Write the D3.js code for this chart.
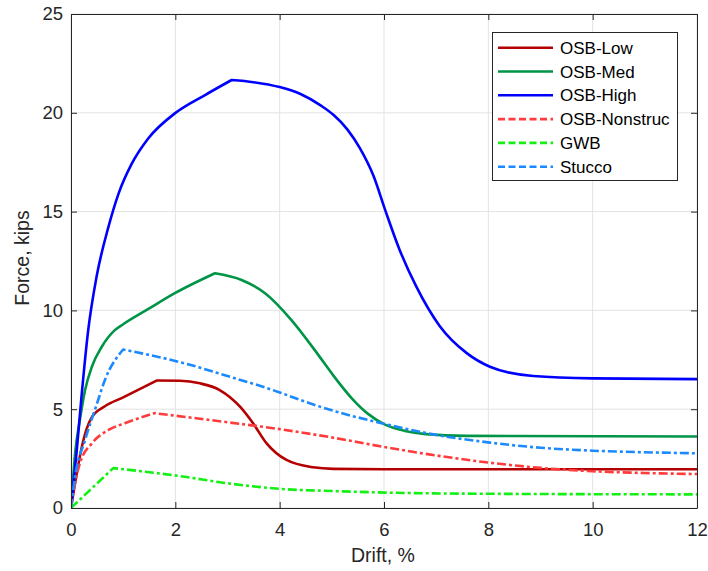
<!DOCTYPE html>
<html>
<head>
<meta charset="utf-8">
<script src="https://cdn.jsdelivr.net/npm/d3@7"></script>
<style>
  html, body { margin: 0; padding: 0; background: #fff; }
  svg { display: block; font-family: "Liberation Sans", Arial, Helvetica, sans-serif; }
</style>
</head>
<body>
<svg id="chart" width="708" height="571"></svg>
<script>
// Force–drift backbone curves for wall sheathing types
const seriesNames = ["OSB-Low", "OSB-Med", "OSB-High", "OSB-Nonstruc", "GWB", "Stucco"];

const osbLow = [
  [0, 0], [0.1, 1.6], [0.2, 3.0], [0.3, 4.0], [0.4, 4.6], [0.65, 5.15], [1.0, 5.6],
  [1.64, 6.45], [2.09, 6.44], [2.47, 6.31], [2.85, 5.97], [3.24, 5.13], [3.49, 4.29],
  [3.75, 3.27], [4.13, 2.43], [4.64, 2.06], [5.03, 1.98], [6, 1.96], [12, 1.96]
];
const osbMed = [
  [0, 0], [0.08, 2.8], [0.17, 4.45], [0.27, 5.97], [0.4, 7.15], [0.59, 8.16], [0.84, 9.0],
  [1.0, 9.3], [1.5, 10.1], [1.99, 10.87], [2.76, 11.88], [3.27, 11.54], [3.72, 10.87],
  [4.23, 9.5], [4.74, 7.75], [5.03, 6.7], [5.4, 5.5], [5.7, 4.75], [6.02, 4.22],
  [6.4, 3.9], [6.8, 3.74], [7.58, 3.65], [12, 3.62]
];
const osbHigh = [
  [0, 0], [0.11, 2.9], [0.2, 5.6], [0.33, 9.0], [0.49, 11.7], [0.715, 14.2], [0.91, 15.9],
  [1.16, 17.4], [1.48, 18.7], [1.99, 19.97], [2.57, 20.9], [3.08, 21.66], [3.5, 21.55],
  [4.0, 21.3], [4.4, 20.95], [4.8, 20.35], [5.03, 19.9], [5.3, 19.15],
  [5.54, 18.2], [5.8, 16.8], [6.02, 15.1], [6.3, 13.06], [6.62, 11.2], [7.07, 9.2],
  [7.58, 7.85], [8.03, 7.15], [8.86, 6.68], [10, 6.56], [12, 6.52]
];
const osbNonstruc = [
  [0, 0], [0.077, 1.25], [0.17, 2.26], [0.4, 3.27], [0.72, 3.95], [1.03, 4.29], [1.6, 4.8],
  [3, 4.34], [4, 3.99], [5, 3.57], [6, 3.09], [7, 2.66], [8, 2.3], [9, 2.03],
  [10, 1.86], [11, 1.77], [12, 1.72]
];
const gwb = [
  [0, 0], [0.81, 2.02], [2.18, 1.58], [3, 1.25], [4.39, 0.91], [4.77, 0.88], [6.02, 0.78],
  [8, 0.72], [12, 0.69]
];
const stucco = [
  [0, 0], [0.077, 1.58], [0.27, 3.44], [0.5, 5.3], [0.65, 6.48], [1.0, 8.02], [2.18, 7.32],
  [3, 6.68], [4, 5.85], [4.39, 5.47], [4.77, 5.13], [6.02, 4.25], [7, 3.7], [8.03, 3.31],
  [9, 3.05], [10, 2.9], [11, 2.82], [12, 2.77]
];

// drift values where each curve has a sharp kink (peak of the backbone)
const kinks = [[1.64], [2.76], [3.08], [1.6], [0.81], [1.0]];

const xTicks = [0, 2, 4, 6, 8, 10, 12];
const yTicks = [0, 5, 10, 15, 20, 25];

const series = [
  { name: seriesNames[0], data: osbLow,      kinks: kinks[0], color: "#b40000", dash: null },
  { name: seriesNames[1], data: osbMed,      kinks: kinks[1], color: "#009447", dash: null },
  { name: seriesNames[2], data: osbHigh,     kinks: kinks[2], color: "#0000ff", dash: null },
  { name: seriesNames[3], data: osbNonstruc, kinks: kinks[3], color: "#ff3b3b", dash: "9,3,3,3" },
  { name: seriesNames[4], data: gwb,         kinks: kinks[4], color: "#14f014", dash: "9,3,3,3" },
  { name: seriesNames[5], data: stucco,      kinks: kinks[5], color: "#1b8aff", dash: "9,3,3,3" }
];

const svg = d3.select("#chart");
const plot = { left: 71, top: 14, right: 697, bottom: 508 };

const x = d3.scaleLinear().domain([0, 12]).range([plot.left, plot.right]);
const y = d3.scaleLinear().domain([0, 25]).range([plot.bottom, plot.top]);

// grid
const grid = svg.append("g").attr("stroke", "#e3e3e3").attr("stroke-width", 1);
xTicks.forEach(t => grid.append("line")
  .attr("x1", x(t)).attr("x2", x(t)).attr("y1", plot.top).attr("y2", plot.bottom));
yTicks.forEach(t => grid.append("line")
  .attr("x1", plot.left).attr("x2", plot.right).attr("y1", y(t)).attr("y2", y(t)));

// smooth pieces joined at the kinks, kept as one continuous subpath
const smooth = d3.line()
  .x(d => x(d[0])).y(d => y(d[1]))
  .curve(d3.curveMonotoneX);

function kinkedPath(data, kinkXs) {
  const pieces = [];
  let start = 0;
  kinkXs.forEach(k => {
    const idx = data.findIndex(d => d[0] === k);
    if (idx > start) { pieces.push(data.slice(start, idx + 1)); start = idx; }
  });
  pieces.push(data.slice(start));
  return pieces.map((p, i) => {
    const s = smooth(p);
    return i === 0 ? s : "L" + s.slice(1);
  }).join("");
}

svg.append("clipPath").attr("id", "plotclip").append("rect")
  .attr("x", plot.left).attr("y", plot.top)
  .attr("width", plot.right - plot.left).attr("height", plot.bottom - plot.top);

const curves = svg.append("g").attr("clip-path", "url(#plotclip)");
series.forEach(s => {
  curves.append("path")
    .attr("d", kinkedPath(s.data, s.kinks))
    .attr("fill", "none")
    .attr("stroke", s.color)
    .attr("stroke-width", 2.6)
    .attr("stroke-linejoin", "round")
    .attr("stroke-dasharray", s.dash);
});

// axes (ticks pointing inward, box on all sides)
const axisColor = "#262626";
const tickLen = 6;
const xAxis = d3.axisBottom(x).tickValues(xTicks).tickSizeInner(-tickLen).tickSizeOuter(0).tickPadding(15);
const yAxis = d3.axisLeft(y).tickValues(yTicks).tickSizeInner(-tickLen).tickSizeOuter(0).tickPadding(8);
const xTop = d3.axisTop(x).tickValues(xTicks).tickSizeInner(-tickLen).tickSizeOuter(0).tickFormat("");
const yRight = d3.axisRight(y).tickValues(yTicks).tickSizeInner(-tickLen).tickSizeOuter(0).tickFormat("");

function styleAxis(g) {
  g.selectAll("path").attr("stroke", axisColor);
  g.selectAll("line").attr("stroke", axisColor);
  g.selectAll("text").attr("fill", "#262626").style("font-size", "18.5px")
    .style("font-family", "'Liberation Sans', Arial, sans-serif");
}

svg.append("g").attr("transform", `translate(0,${plot.bottom})`).call(xAxis).call(styleAxis);
svg.append("g").attr("transform", `translate(${plot.left},0)`).call(yAxis).call(styleAxis);
svg.append("g").attr("transform", `translate(0,${plot.top})`).call(xTop).call(styleAxis);
svg.append("g").attr("transform", `translate(${plot.right},0)`).call(yRight).call(styleAxis);

// axis titles
svg.append("text")
  .attr("x", (plot.left + plot.right) / 2 - 1).attr("y", 562)
  .attr("text-anchor", "middle")
  .attr("fill", "#262626").style("font-size", "19.5px")
  .text("Drift, %");
svg.append("text")
  .attr("transform", `translate(29,258) rotate(-90)`)
  .attr("text-anchor", "middle")
  .attr("fill", "#262626").style("font-size", "19.5px")
  .text("Force, kips");

// legend
const lg = { x: 492, y: 32, w: 185, h: 148, row: 23.8, first: 47.7 };
const legend = svg.append("g");
legend.append("rect")
  .attr("x", lg.x + 0.5).attr("y", lg.y + 0.5).attr("width", lg.w).attr("height", lg.h)
  .attr("fill", "#fff").attr("stroke", "#262626").attr("stroke-width", 1);
series.forEach((s, i) => {
  const yy = lg.first + i * lg.row;
  legend.append("line")
    .attr("x1", 498).attr("x2", 553).attr("y1", yy).attr("y2", yy)
    .attr("stroke", s.color).attr("stroke-width", 2.6)
    .attr("stroke-dasharray", s.dash ? "7,3.5" : null);
  legend.append("text")
    .attr("x", 560).attr("y", yy).attr("dy", "0.36em")
    .attr("fill", "#000").style("font-size", "17px")
    .text(s.name);
});
</script>
</body>
</html>
